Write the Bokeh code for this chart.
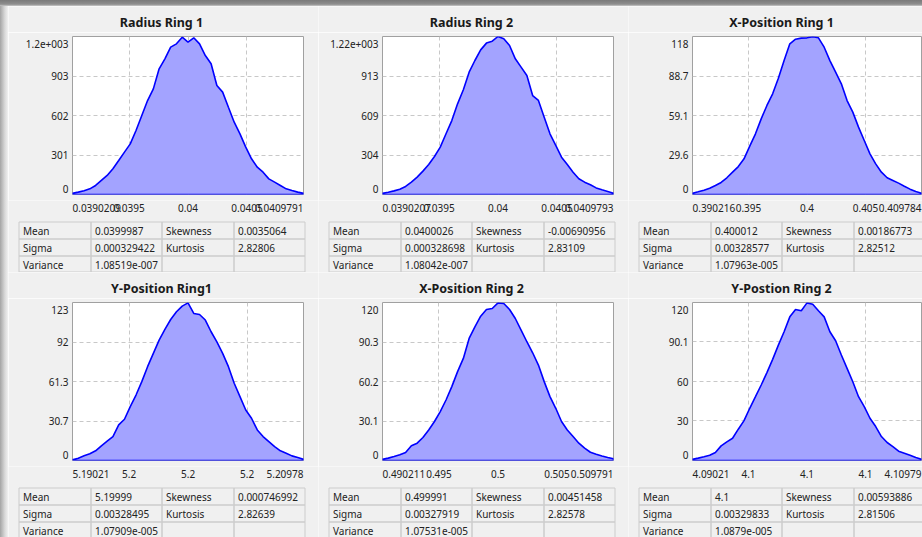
import numpy as np
from bokeh.plotting import figure
from bokeh.models import Range1d, FixedTicker, Div
from bokeh.layouts import row, column
from bokeh.embed import file_html
from bokeh.resources import INLINE
from bokeh.core.properties import value

# ---------------- data ----------------
titles = ["Radius Ring 1", "Radius Ring 2", "X-Position Ring 1",
          "Y-Position Ring1", "X-Position Ring 2", "Y-Postion Ring 2"]

x_min = [0.0390209, 0.0390207, 0.390216, 5.19021, 0.490211, 4.09021]
x_max = [0.0409791, 0.0409793, 0.409784, 5.20978, 0.509791, 4.10979]
x_end_labels = [["0.0390209", "0.0409791"], ["0.0390207", "0.0409793"],
                ["0.390216", "0.409784"], ["5.19021", "5.20978"],
                ["0.490211", "0.509791"], ["4.09021", "4.10979"]]
x_ticks = [[0.0395, 0.04, 0.0405], [0.0395, 0.04, 0.0405], [0.395, 0.4, 0.405],
           [5.195, 5.2, 5.205], [0.495, 0.5, 0.505], [4.095, 4.1, 4.105]]
x_tick_labels = [["0.0395", "0.04", "0.0405"], ["0.0395", "0.04", "0.0405"],
                 ["0.395", "0.4", "0.405"], ["5.2", "5.2", "5.2"],
                 ["0.495", "0.5", "0.505"], ["4.1", "4.1", "4.1"]]

y_ticks = [[0, 301, 602, 903, 1204], [0, 304.5, 609, 913.5, 1218],
           [0, 29.55, 59.1, 88.65, 118.2], [0, 30.65, 61.3, 91.95, 122.6],
           [0, 30.1, 60.2, 90.3, 120.4], [0, 30.03, 60.05, 90.08, 120.1]]
y_tick_labels = [["0", "301", "602", "903", "1.2e+003"],
                 ["0", "304", "609", "913", "1.22e+003"],
                 ["0", "29.6", "59.1", "88.7", "118"],
                 ["0", "30.7", "61.3", "92", "123"],
                 ["0", "30.1", "60.2", "90.3", "120"],
                 ["0", "30", "60", "90.1", "120"]]

counts_radius_ring1 = [10, 18, 28, 43, 69, 107, 145, 196, 259, 323, 386, 488, 602, 716, 805,
                       958, 1034, 1123, 1148, 1199, 1161, 1194, 1148, 1059, 996, 831, 780,
                       665, 551, 462, 361, 272, 208, 170, 119, 94, 69, 43, 30, 18, 10]
counts_radius_ring2 = [10, 18, 28, 41, 62, 95, 134, 180, 231, 293, 365, 468, 570, 699, 807,
                       943, 1033, 1115, 1167, 1182, 1218, 1200, 1149, 1046, 982, 917, 763,
                       725, 596, 468, 378, 288, 231, 172, 121, 95, 75, 51, 36, 23, 10]
counts_xpos_ring1 = [1.0, 2.0, 3.2, 4.7, 6.7, 9.0, 12.5, 16.7, 20.9, 26.7, 36.2, 45.4, 56.6,
                     66.6, 75.3, 87.0, 100.2, 112.7, 116.2, 117.0, 117.2, 118.0, 117.2, 110.2,
                     100.2, 91.5, 82.8, 70.3, 61.6, 50.4, 40.4, 30.4, 22.9, 16.7, 12.5, 10.5,
                     8.5, 6.2, 4.0, 2.2, 1.0]
counts_ypos_ring1 = [0.5, 1.8, 3.6, 5.2, 7.5, 11.4, 15.0, 18.6, 27.6, 32.0, 41.8, 50.8, 61.2,
                     72.8, 83.1, 93.4, 101.7, 109.4, 115.4, 119.8, 122.3, 114.1, 113.3, 109.0,
                     99.9, 92.1, 83.1, 72.8, 59.9, 49.6, 39.2, 32.8, 23.7, 18.6, 14.7, 10.8,
                     7.5, 5.7, 3.6, 2.3, 1.0]
counts_xpos_ring2 = [1.0, 1.8, 3.0, 4.3, 6.1, 11.2, 13.2, 17.5, 23.3, 29.7, 37.3, 46.1, 56.3,
                     67.7, 77.8, 93.0, 101.9, 110.0, 115.1, 115.8, 120.1, 119.6, 115.1, 108.2,
                     99.4, 90.5, 82.1, 72.7, 60.1, 48.7, 39.8, 29.7, 23.3, 18.3, 13.2, 9.4,
                     6.3, 4.8, 3.5, 2.3, 1.3]
counts_ypos_ring2 = [1.0, 1.8, 2.8, 4.0, 6.1, 11.1, 14.2, 16.9, 23.8, 30.3, 39.7, 48.5, 57.4,
                     66.8, 76.9, 87.7, 97.9, 109.2, 114.8, 113.8, 119.8, 118.8, 113.8, 109.2,
                     97.9, 91.0, 80.2, 70.0, 59.9, 48.5, 40.9, 32.1, 25.8, 18.2, 13.7, 10.6,
                     7.1, 5.6, 4.0, 2.3, 1.0]
counts = [counts_radius_ring1, counts_radius_ring2, counts_xpos_ring1,
          counts_ypos_ring1, counts_xpos_ring2, counts_ypos_ring2]

stat_names_a = ["Mean", "Sigma", "Variance"]
stat_names_b = ["Skewness", "Kurtosis", ""]
means = ["0.0399987", "0.0400026", "0.400012", "5.19999", "0.499991", "4.1"]
sigmas = ["0.000329422", "0.000328698", "0.00328577", "0.00328495", "0.00327919", "0.00329833"]
variances = ["1.08519e-007", "1.08042e-007", "1.07963e-005", "1.07909e-005", "1.07531e-005", "1.0879e-005"]
skewness = ["0.0035064", "-0.00690956", "0.00186773", "0.000746992", "0.00451458", "0.00593886"]
kurtosis = ["2.82806", "2.83109", "2.82512", "2.82639", "2.82578", "2.81506"]

# ---------------- style / layout ----------------
FONT = "Noto Sans"
BG = "#f0f0f0"
FILL = "#a3a3ff"
LINE = "#0000ff"
GRID = "#c8c8c8"
FRAME = "#a0a0a0"
TXT = "#222222"
CELL = "#cccccc"

TITLE_H = 26
TITLE_MID = 16
HIST_H = 168
FRAME_TOP = 4
FRAME_BOTTOM = 6
FRAME_H = HIST_H - FRAME_TOP - FRAME_BOTTOM
FRAME_LEFT = 64
COL_PX = [10.5, 82.5, 153.5, 225.5, 296.5]
ROW_PX = [21.5, 38.5, 55.5, 71.5]
XLABEL_Y = 7.0
# the application draws the first / last y label a few pixels inside the frame
Y_LABEL_INSET_BOTTOM = 6
Y_LABEL_INSET_TOP = 7


def frame_width(w):
    return 231 if w == 310 else 229


def title_fig(i, w):
    t = figure(width=w, height=TITLE_H, output_backend="svg", toolbar_location=None,
               x_range=Range1d(0, w), y_range=Range1d(TITLE_H, 0), min_border=0,
               x_axis_type=None, y_axis_type=None,
               background_fill_color=BG, border_fill_color=BG, outline_line_color=None)
    t.text(x=[153], y=[TITLE_MID], text=[titles[i]], text_font=value(FONT),
           text_font_size="12.5px", text_font_style="bold", text_align="center",
           text_baseline="middle", text_color="#1a1a1a")
    return t


def hist_fig(i, w):
    fw = frame_width(w)
    ymax = y_ticks[i][-1]
    p = figure(width=w, height=HIST_H, output_backend="svg", toolbar_location=None,
               x_range=Range1d(x_min[i], x_max[i]), y_range=Range1d(0, ymax),
               min_border_left=FRAME_LEFT, min_border_right=w - FRAME_LEFT - fw,
               min_border_top=FRAME_TOP, min_border_bottom=FRAME_BOTTOM,
               background_fill_color="white", border_fill_color=BG,
               outline_line_color=FRAME, outline_line_width=1)
    xv = np.linspace(x_min[i], x_max[i], len(counts[i]))
    xs = [xv[0]] + list(xv) + [xv[-1]]
    ys = [0] + list(counts[i]) + [0]
    p.patch(xs, ys, fill_color=FILL, line_color=LINE, line_width=1.6)

    # label positions: interior labels on their grid lines, end labels inset
    per_px = ymax / FRAME_H
    label_pos = list(y_ticks[i])
    label_pos[0] = Y_LABEL_INSET_BOTTOM * per_px
    label_pos[-1] = ymax - Y_LABEL_INSET_TOP * per_px
    p.xaxis.visible = False
    p.yaxis.ticker = FixedTicker(ticks=label_pos)
    p.yaxis.major_label_overrides = {t: l for t, l in zip(label_pos, y_tick_labels[i])}
    p.xgrid.ticker = FixedTicker(ticks=x_ticks[i])
    p.ygrid.ticker = FixedTicker(ticks=y_ticks[i][1:-1])
    for g in (p.xgrid, p.ygrid):
        g.grid_line_color = GRID
        g.grid_line_dash = "4 3"
        g.grid_line_width = 1
    ax = p.yaxis
    ax.axis_line_color = None
    ax.major_tick_line_color = None
    ax.minor_tick_line_color = None
    ax.major_tick_out = 0
    ax.major_tick_in = 0
    ax.major_label_text_font = FONT
    ax.major_label_text_font_size = "10px"
    ax.major_label_text_color = TXT
    ax.major_label_standoff = 4
    return p


def table_fig(i, w, h):
    fw = frame_width(w)
    s = (x_max[i] - x_min[i]) / fw          # data units per pixel of the plot above
    x0 = x_min[i] - FRAME_LEFT * s          # so that the x scale lines up with the plot
    t = figure(width=w, height=h, output_backend="svg", toolbar_location=None,
               x_range=Range1d(x0, x0 + w * s), y_range=Range1d(h, 0), min_border=0,
               x_axis_type=None, y_axis_type=None,
               background_fill_color=BG, border_fill_color=BG, outline_line_color=None)

    def px(v):
        return x0 + v * s

    # x tick labels of the histogram above (data coordinates)
    t.text(x=x_ticks[i], y=[XLABEL_Y] * len(x_ticks[i]), text=x_tick_labels[i],
           text_font=value(FONT), text_font_size="10px", text_align="center",
           text_baseline="middle", text_color=TXT)
    t.text(x=[x_min[i]], y=[XLABEL_Y], text=[x_end_labels[i][0]], text_font=value(FONT),
           text_font_size="10px", text_align="left", text_baseline="middle", text_color=TXT)
    t.text(x=[x_max[i]], y=[XLABEL_Y], text=[x_end_labels[i][1]], text_font=value(FONT),
           text_font_size="10px", text_align="right", text_baseline="middle", text_color=TXT)

    cells = [[stat_names_a[0], means[i], stat_names_b[0], skewness[i]],
             [stat_names_a[1], sigmas[i], stat_names_b[1], kurtosis[i]],
             [stat_names_a[2], variances[i], stat_names_b[2], ""]]
    left, right, top, bottom, tx, ty, tt = [], [], [], [], [], [], []
    for r in range(3):
        for c in range(4):
            left.append(px(COL_PX[c])); right.append(px(COL_PX[c + 1]))
            top.append(ROW_PX[r]); bottom.append(ROW_PX[r + 1])
            tx.append(px(COL_PX[c] + 4))
            ty.append((ROW_PX[r] + ROW_PX[r + 1]) / 2 + 0.5)
            tt.append(cells[r][c])
    t.quad(left=left, right=right, top=top, bottom=bottom, fill_color=None,
           line_color=CELL, line_width=1)
    t.text(x=tx, y=ty, text=tt, text_font=value(FONT), text_font_size="10px",
           text_baseline="middle", text_align="left", text_color=TXT)
    return t


widths = [310, 310, 294]
rows = []
for r, th in ((0, 72), (1, 71)):
    idx = [3 * r + k for k in range(3)]
    rows.append(row([title_fig(i, widths[k]) for k, i in enumerate(idx)]))
    rows.append(row([hist_fig(i, widths[k]) for k, i in enumerate(idx)]))
    rows.append(row([table_fig(i, widths[k], th) for k, i in enumerate(idx)]))

top_band = Div(width=922, height=6, margin=(0, 0, 0, 0),
               styles={"background": "linear-gradient(to bottom, #7a7a7a, #8e8e8e 70%, #c8c8c8)"})
left_band = Div(width=8, height=531, margin=(0, 0, 0, 0),
                styles={"background": "linear-gradient(to right, #a4a4a4, #d8d8d8 60%, #f0f0f0)"})

page = column(top_band, row(left_band, column(rows)))

open("out.html", "w").write(file_html(page, INLINE))
